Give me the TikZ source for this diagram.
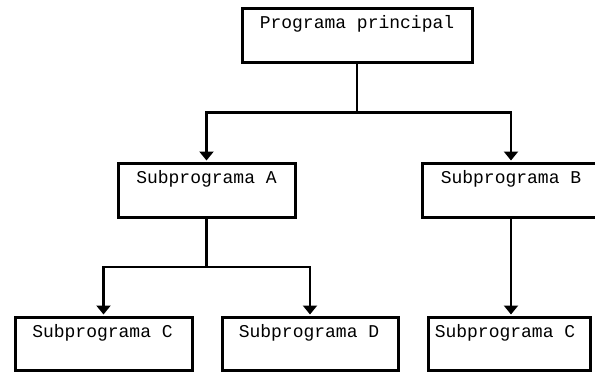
\documentclass[tikz,border=0pt]{standalone}
\usepackage{fontspec}
\setmonofont{Liberation Mono}
\usetikzlibrary{arrows.meta}
\tikzset{
  box/.style={draw, line width=3pt, rectangle, inner sep=0pt, minimum height=54pt},
  lbl/.style={anchor=base, inner sep=0pt, font=\fontsize{18}{20}\selectfont\ttfamily},
  conn/.style={line width=2.5pt},
  arr/.style={conn, -{Triangle[width=14pt,length=9pt]}, shorten >=1pt}
}
\begin{document}
\begin{tikzpicture}[x=1pt,y=-1pt]
\useasboundingbox (0,0) rectangle (595,372);
\node[box, minimum width=230pt] (P) at (357,35.5) {};
\node[box, minimum width=177pt] (A) at (206.5,190) {};
\node[box, minimum width=178pt] (B) at (511,190) {};
\node[box, minimum width=177pt, minimum height=53pt] (C1) at (103.5,343.5) {};
\node[box, minimum width=176pt, minimum height=53pt] (D) at (310,343.5) {};
\node[box, minimum width=162pt, minimum height=53pt] (C2) at (509,343.5) {};
\node[lbl] (tP) at (357,28) {Programa principal};
\node[lbl] (tA) at (206.5,183) {Subprograma A};
\node[lbl] (tB) at (511,183) {Subprograma B};
\node[lbl] (tC1) at (102.5,337) {Subprograma C};
\node[lbl] (tD) at (309,337) {Subprograma D};
\node[lbl] (tC2) at (505,337) {Subprograma C};
\coordinate (j1) at (357,112.5);
\coordinate (j2) at (206.5,267);
\draw[conn] (P.south) -- (j1);
\draw[arr] (j1) -| (A.north);
\draw[arr] (j1) -| (B.north);
\draw[conn] (A.south) -- (j2);
\draw[arr] (j2) -| (C1.north);
\draw[arr] (j2) -| (D.north);
\draw[arr] (B.south) -- (B.south |- C2.north);
\end{tikzpicture}
\end{document}
